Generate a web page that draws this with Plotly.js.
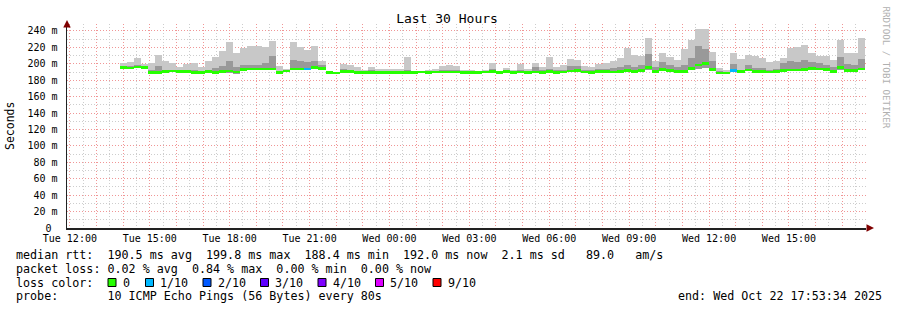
<!DOCTYPE html>
<html><head><meta charset="utf-8">
<script src="https://cdn.plot.ly/plotly-3.0.1.min.js"></script>
<style>html,body{margin:0;padding:0;background:#fff}#chart{width:897px;height:310px}</style>
</head><body><div id="chart"></div>
<script>
// ---- data: one entry per 16-minute step, first step starts Tue 2025-10-21 13:52 ----
const med = [195.3,195,196,195.5,189.7,189.7,190.8,191.5,190.4,190.4,189.7,189.7,190.4,189.7,190.4,191.2,190,193.3,194,194,194,193.6,189.7,191.2,193.6,193.6,193.6,195.3,194.5,189.7,
189,190.8,190.4,189.7,189.7,189.7,189.7,189.7,189.7,189.7,189.7,189.7,190,189.7,190,190,190,190,189.7,189.7,189.7,190,190.4,189.3,190.4,189.3,190,189.7,190,189.7,
190.4,189.7,190,191.2,191.6,190,189.7,190.4,190.4,190,190.8,192,190.8,191.6,195.7,190.8,193.3,191.6,190.8,190.4,194.5,198.6,200.6,193.3,189,189,191.6,190.4,192.5,190.4,
190.4,190,190.4,192,192.5,192.5,193.3,194.5,193.6,192.8,190.8,195.7,191.6,191.6,193.6];
const lo = [194,194,194.5,194,188.5,188.5,189.5,190,189,189,188.5,188.5,189,188.5,189,188.5,188,192,192.5,192.5,192.5,192,188.5,190,192,192,192,193.5,192,189,
188.5,189.5,189,188.5,188.5,188.5,188.5,188.5,188.5,188.5,188.5,188.5,189,188.5,189,189,189,188.5,188.5,188.5,188.5,189,189,188,189,188,189,188.5,189,188.5,
189,188.5,189,190,190,189,188.5,189,189,188.5,189.5,190,189.5,190,192,189.5,191.5,190,189.5,189,192,194,195,191.5,188,188,190,189,191,189,
189,188.5,189,190.5,191,191,191.5,192.5,192,191,189.5,193,190,190,192];
const mid = [197,197,198,197,193,197,193,193,192,192,192,191,193,195,197,204,196,199,198,199,201,209,191,192,205,204,202,203,199,190.2,
189.8,194,193,191,191,192,191,191,191,191,192,190.5,191,191,191,193,193,193,191,191,190.5,191,194,190.5,192,191,192,191,196,192,
194,192,193,197,197,192,192,194,194,195,196,199,196,198,212,196,202,198,196,198,207,222,218,203,191,190.5,200,193,198,195,
195,193,194,201,203,202,205,202,201,199,196,208,200,198,206];
const hi = [201,202,207.5,200,201,210.8,203.6,201,196,200,201,196,203.6,208.5,215.8,226.4,213.4,219.8,221.5,221.5,220.6,228,196.8,193.6,226,220,217,222,204,190.5,
190,200,198.6,196,193,196,193.6,193.6,193.6,193.6,208.5,191,191,193,193.6,197.8,198.6,197.8,193,193,190.5,192.5,201,191,195.5,193,200,193.6,201,196,
208.5,196,198.6,206,205,197.8,196,200,201,203.6,207.5,219.8,210.8,210,232,204,213.4,208.5,205,218,229.5,243,243,214.6,195.5,192,213.4,206,210.8,210,
207.5,202.7,203.6,207.5,219.8,220.6,223,212.6,210,210,205,229.5,212.6,212.6,231.6];
const loss = [0,0,0,0,0,0,0,0,0,0,0,0,0,0,0,0,0,0,0,0,0,0,0,0,0,0,1,0,0,0,
0,0,0,0,0,0,0,0,0,0,0,0,0,0,0,0,0,0,0,0,0,0,0,0,0,0,0,0,0,0,
0,0,0,0,0,0,0,0,0,0,0,0,0,0,0,0,0,0,0,0,0,0,0,0,0,0,1,0,0,0,
0,0,0,0,0,0,0,0,0,0,0,0,0,0,0];
const lossLabels = ['0','1/10','2/10','3/10','4/10','5/10','9/10'];
const lossColors = ['#26ff00','#00b8ff','#0059ff','#5e00ff','#7e00ff','#dd00ff','#ff0000'];
const xTickLabels = ['Tue 12:00','Tue 15:00','Tue 18:00','Tue 21:00','Wed 00:00','Wed 03:00','Wed 06:00','Wed 09:00','Wed 12:00','Wed 15:00'];
const yTickValues = [0,20,40,60,80,100,120,140,160,180,200,220,240];
const yTickLabels = ['0\u00a0','20 m','40 m','60 m','80 m','100 m','120 m','140 m','160 m','180 m','200 m','220 m','240 m'];
const statLines = [
  'median rtt:  190.5 ms avg  199.8 ms max  188.4 ms min  192.0 ms now  2.1 ms sd   89.0   am/s',
  'packet loss: 0.02 % avg  0.84 % max  0.00 % min  0.00 % now',
  'loss color:',
  'probe:       10 ICMP Echo Pings (56 Bytes) every 80s'
];
const endText = 'end: Wed Oct 22 17:53:34 2025';
const titleText = 'Last 30 Hours';

// ---- geometry helpers ----
const W = 897, H = 310, ML = 67, MR = 31, MT = 24, MB = 82;
const PW = W - ML - MR, PH = H - MT - MB;
const px = x => (x - ML) / PW;
const py = y => (H - MB - y) / PH;
const nb = s => s.replace(/ /g, '\u00a0');
const MONO = 'DejaVu Sans Mono';

const t0 = Date.UTC(2025, 9, 21, 13, 52, 0);
const stepMs = 16 * 60 * 1000;
const xs = med.map((_, i) => t0 + (i + 0.5) * stepMs);

// hourly major ticks with labels every 3 h
const hour = 3600000;
const firstHour = Date.UTC(2025, 9, 21, 12, 0, 0);
const tickVals = [], tickText = [];
for (let h = 0; h < 30; h++) {
  tickVals.push(firstHour + h * hour);
  tickText.push(h % 3 === 0 ? xTickLabels[h / 3] : '');
}

const traces = [
  {type:'bar', x:xs, base:lo, y:hi.map((v,i)=>v-lo[i]), width:stepMs,
   marker:{color:'#c8c8c8', line:{width:0}}, hoverinfo:'skip', showlegend:false},
  {type:'bar', x:xs, base:lo, y:mid.map((v,i)=>v-lo[i]), width:stepMs,
   marker:{color:'#999999', line:{width:0}}, hoverinfo:'skip', showlegend:false},
  {type:'bar', x:xs, base:med.map(v=>v-1.5), y:med.map(()=>3.0), width:stepMs,
   marker:{color:loss.map(l=>lossColors[l]), line:{width:0}}, hoverinfo:'skip', showlegend:false}
];

const annotations = [];
const lineY = [255, 268.5, 282.5, 296];
statLines.forEach((s, i) => {
  annotations.push({xref:'paper', yref:'paper', x:px(15), y:py(lineY[i]), xanchor:'left', yanchor:'middle',
    text:nb(s), showarrow:false, font:{family:MONO, size:11.7, color:'#000'}, borderpad:0});
});
annotations.push({xref:'paper', yref:'paper', x:px(677), y:py(296), xanchor:'left', yanchor:'middle',
  text:nb(endText), showarrow:false, font:{family:MONO, size:11.7, color:'#000'}, borderpad:0});
const boxX = [108, 145.5, 203, 260.5, 318, 375.5, 433];
const labX = [121.5, 159, 216.5, 274, 331.5, 389, 446.5];
const shapes = [];
lossLabels.forEach((l, i) => {
  shapes.push({type:'rect', xref:'paper', yref:'paper', x0:px(boxX[i]), x1:px(boxX[i]+8), y0:py(286.5), y1:py(278.5),
    fillcolor:lossColors[i], line:{color:'#000', width:1}});
  annotations.push({xref:'paper', yref:'paper', x:px(labX[i]), y:py(lineY[2]), xanchor:'left', yanchor:'middle',
    text:nb(l), showarrow:false, font:{family:MONO, size:11.7, color:'#000'}, borderpad:0});
});
// Seconds
annotations.push({xref:'paper', yref:'paper', x:px(10), y:py(126), xanchor:'center', yanchor:'middle',
  text:'Seconds', textangle:-90, showarrow:false, font:{family:MONO, size:11.5, color:'#000'}});
// watermark
annotations.push({xref:'paper', yref:'paper', x:px(886.5), y:py(67), xanchor:'center', yanchor:'middle',
  text:nb('RRDTOOL / TOBI OETIKER'), textangle:90, showarrow:false, font:{family:MONO, size:9.2, color:'#b0b0b0'}});
// axis arrows
annotations.push({xref:'paper', yref:'paper', x:0, y:py(20), ax:0, ay:8, text:'', showarrow:true,
  arrowhead:2, arrowsize:1, arrowwidth:1.5, arrowcolor:'#7f0000'});
annotations.push({xref:'paper', yref:'paper', x:px(874), y:0, ax:-8, ay:0, text:'', showarrow:true,
  arrowhead:2, arrowsize:1, arrowwidth:1.5, arrowcolor:'#7f0000'});

const layout = {
  width:W, height:H, margin:{l:ML, r:MR, t:MT, b:MB, pad:0},
  paper_bgcolor:'#fff', plot_bgcolor:'#fff',
  barmode:'overlay', bargap:0, showlegend:false,
  title:{text:titleText, x:447/W, xanchor:'center', y:1-18.5/H, yanchor:'middle', yref:'container',
    font:{family:MONO, size:13, color:'#000'}},
  xaxis:{type:'date', range:['2025-10-21 11:53:34','2025-10-22 17:53:34'],
    tickmode:'array', tickvals:tickVals, ticktext:tickText,
    showgrid:true, gridcolor:'rgb(240,150,150)', griddash:'1px,2px', gridwidth:1,
    minor:{tickmode:'linear', tick0:'2025-10-21 11:30', dtick:1800000, showgrid:true, gridcolor:'rgb(205,205,205)', griddash:'1px,2px', gridwidth:1},
    showline:true, linecolor:'#222', linewidth:1.5, zeroline:false, ticks:'',
    tickfont:{family:MONO, size:10, color:'#000'}, fixedrange:true},
  yaxis:{range:[0,248.5], tickmode:'array', tickvals:yTickValues, ticktext:yTickLabels,
    showgrid:true, gridcolor:'rgb(240,150,150)', griddash:'1px,2px', gridwidth:1,
    minor:{tickmode:'linear', tick0:0, dtick:10, showgrid:true, gridcolor:'rgb(205,205,205)', griddash:'1px,2px', gridwidth:1},
    showline:true, linecolor:'#222', linewidth:1.5, zeroline:false, ticks:'', ticklabelstandoff:6,
    tickfont:{family:MONO, size:10, color:'#000'}, fixedrange:true},
  shapes:shapes, annotations:annotations
};
Plotly.newPlot('chart', traces, layout, {staticPlot:true, displayModeBar:false});
</script>
</body></html>
